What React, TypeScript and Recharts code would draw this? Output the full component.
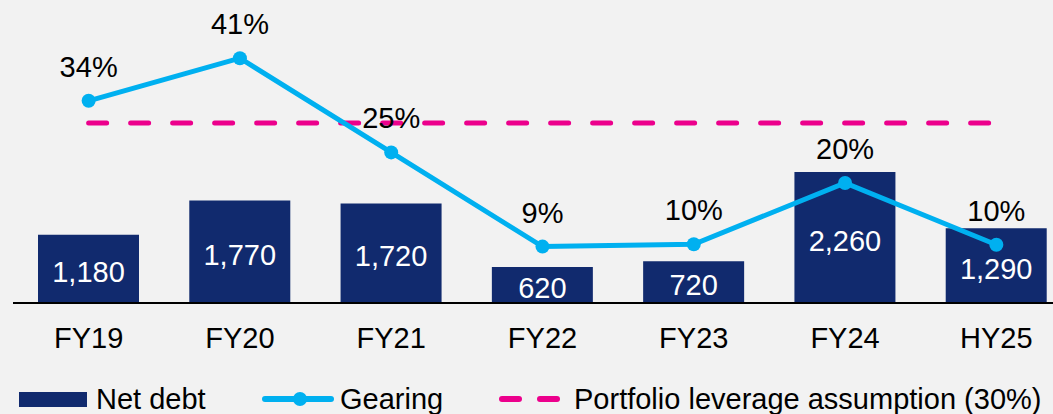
import React from 'react';
import {
  ComposedChart,
  Bar,
  Line,
  XAxis,
  YAxis,
  Legend,
  LabelList,
} from 'recharts';

const categories = ['FY19', 'FY20', 'FY21', 'FY22', 'FY23', 'FY24', 'HY25'];
const netDebt = [1180, 1770, 1720, 620, 720, 2260, 1290];
const gearing = [33.7, 40.8, 25.1, 9.4, 9.8, 20.0, 9.7];
const leverageAssumption = [30, 30, 30, 30, 30, 30, 30];

const seriesNames = {
  netDebt: 'Net debt',
  gearing: 'Gearing',
  assumption: 'Portfolio leverage assumption (30%)',
};

const NAVY = '#112a6e';
const CYAN = '#00b0f0';
const MAGENTA = '#ec008c';
const FONT = '"Liberation Sans", Arial, sans-serif';

const data = categories.map((name, i) => ({
  name,
  netDebt: netDebt[i],
  gearing: gearing[i],
  assumption: leverageAssumption[i],
}));

const BarValueLabel = (props: any) => {
  const { x, y, width, height, value } = props;
  return (
    <text
      x={x + width / 2}
      y={y + height / 2 + 13}
      textAnchor="middle"
      fill="#ffffff"
      fontSize={29}
      fontFamily={FONT}
    >
      {Number(value).toLocaleString('en-US')}
    </text>
  );
};

const GearingLabel = (props: any) => {
  const { x, y, value } = props;
  return (
    <text
      x={x}
      y={y - 24}
      textAnchor="middle"
      fill="#000000"
      fontSize={29}
      fontFamily={FONT}
    >
      {Math.round(Number(value))}%
    </text>
  );
};

const renderLegend = () => (
  <svg width={1053} height={34} style={{ display: 'block', overflow: 'visible' }}>
    <rect x={19} y={14} width={68} height={15} fill={NAVY} />
    <text x={96} y={31} fontSize={29} fontFamily={FONT} fill="#000">
      {seriesNames.netDebt}
    </text>
    <line x1={265} y1={21} x2={331} y2={21} stroke={CYAN} strokeWidth={6} strokeLinecap="round" />
    <circle cx={300} cy={21} r={7} fill={CYAN} />
    <text x={340} y={31} fontSize={29} fontFamily={FONT} fill="#000">
      {seriesNames.gearing}
    </text>
    <line x1={502} y1={21} x2={519} y2={21} stroke={MAGENTA} strokeWidth={6} strokeLinecap="round" />
    <line x1={540} y1={21} x2={557} y2={21} stroke={MAGENTA} strokeWidth={6} strokeLinecap="round" />
    <text x={574} y={31} fontSize={29} fontFamily={FONT} fill="#000">
      {seriesNames.assumption}
    </text>
  </svg>
);

export default function App() {
  return (
    <div
      style={{
        position: 'fixed',
        left: 0,
        top: 0,
        width: 1053,
        height: 414,
        overflow: 'hidden',
        background: '#f2f2f2',
        fontFamily: FONT,
      }}
    >
      <ComposedChart
        width={1072}
        height={414}
        data={data}
        margin={{ top: 3, right: 0, bottom: 2, left: 13 }}
      >
        <XAxis
          dataKey="name"
          axisLine={{ stroke: '#000', strokeWidth: 2 }}
          tickLine={false}
          tick={{ fill: '#000', fontSize: 29, fontFamily: FONT }}
          tickMargin={18}
          height={75}
          interval={0}
        />
        <YAxis yAxisId="debt" hide domain={[0, 5180]} />
        <YAxis yAxisId="pct" hide orientation="right" domain={[0, 50]} />
        <Legend
          verticalAlign="bottom"
          content={renderLegend}
          wrapperStyle={{ left: 0, width: 1053, height: 34, overflow: 'visible' }}
        />
        <Bar
          yAxisId="debt"
          dataKey="netDebt"
          name={seriesNames.netDebt}
          fill={NAVY}
          barSize={101}
          isAnimationActive={false}
        >
          <LabelList dataKey="netDebt" content={BarValueLabel} />
        </Bar>
        <Line
          yAxisId="pct"
          dataKey="assumption"
          name={seriesNames.assumption}
          stroke={MAGENTA}
          strokeWidth={5}
          strokeDasharray="18 24"
          strokeLinecap="round"
          dot={false}
          activeDot={false}
          isAnimationActive={false}
        />
        <Line
          yAxisId="pct"
          dataKey="gearing"
          name={seriesNames.gearing}
          stroke={CYAN}
          strokeWidth={5}
          dot={{ r: 7, fill: CYAN, stroke: 'none' }}
          activeDot={false}
          isAnimationActive={false}
        >
          <LabelList dataKey="gearing" content={GearingLabel} />
        </Line>
      </ComposedChart>
    </div>
  );
}
